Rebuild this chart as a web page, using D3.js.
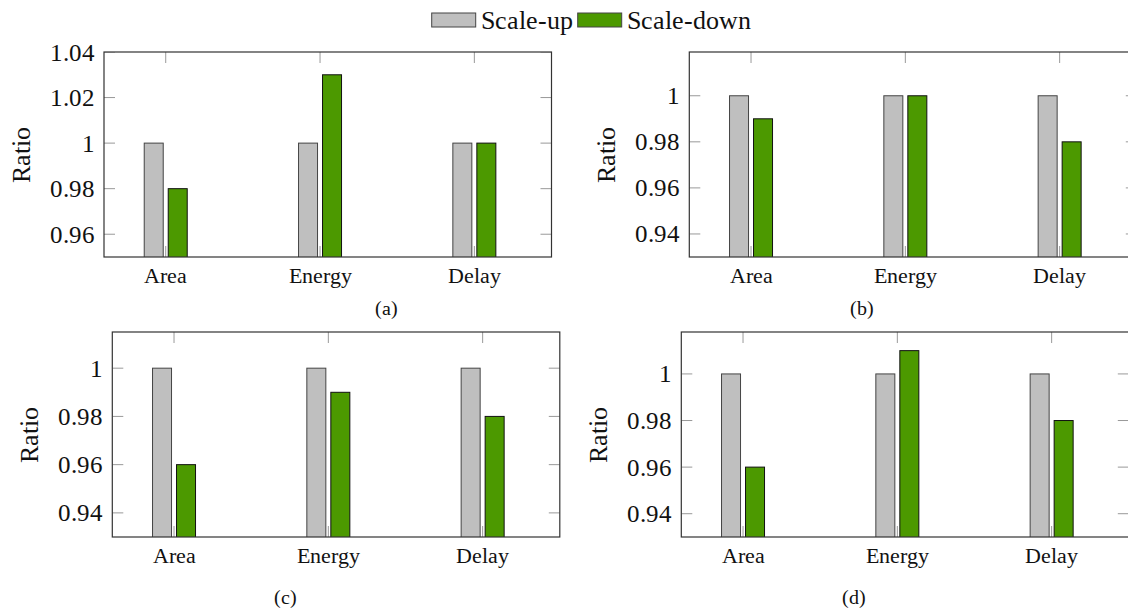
<!DOCTYPE html>
<meta charset="utf-8">
<style>
@font-face { font-family: "ChartSerif"; src: local("Liberation Serif"), local("LiberationSerif-Regular"), local("Liberation Serif Regular"); }
body { margin: 0; background: #fff; }
</style>
<svg width="1128" height="610" font-family="ChartSerif, 'Liberation Serif', serif"></svg>
<script src="https://cdnjs.cloudflare.com/ajax/libs/d3/7.8.5/d3.min.js"></script>
<script>
// categories and series
var categories = ["Area", "Energy", "Delay"];
var seriesNames = ["Scale-up", "Scale-down"];
var colors = ["#bfbfbf", "#4c9900"];

// values per panel
var upA = [1.00, 1.00, 1.00], downA = [0.98, 1.03, 1.00];
var upB = [1.00, 1.00, 1.00], downB = [0.99, 1.00, 0.98];
var upC = [1.00, 1.00, 1.00], downC = [0.96, 0.99, 0.98];
var upD = [1.00, 1.00, 1.00], downD = [0.96, 1.01, 0.98];

// y axis tick labels
var ticksA = [0.96, 0.98, 1.00, 1.02, 1.04];
var ticksBCD = [0.94, 0.96, 0.98, 1.00];

var panels = [
  {name: "(a)", up: upA, down: downA, ymin: 0.95, ymax: 1.04, ticks: ticksA, left: 104, top: 52, cap: [386, 315]},
  {name: "(b)", up: upB, down: downB, ymin: 0.93, ymax: 1.019, ticks: ticksBCD, left: 689.3, top: 52, cap: [862, 315]},
  {name: "(c)", up: upC, down: downC, ymin: 0.93, ymax: 1.015, ticks: ticksBCD, left: 112.3, top: 332, cap: [285, 604]},
  {name: "(d)", up: upD, down: downD, ymin: 0.93, ymax: 1.018, ticks: ticksBCD, left: 681.3, top: 332, cap: [854, 604]}
];

var svg = d3.select("svg");
var plotW = 447.5, plotH = 205, tickLen = 11, barW = 19, barOff = 12;
var fmt = function(d) { return d === 1 ? "1" : d.toFixed(2); };

// all text goes straight into the svg root, positioned in page coordinates
function label(px, py, str, size, anchor) {
  return svg.append("text")
    .attr("x", px).attr("y", py)
    .style("font-family", "ChartSerif, 'Liberation Serif', serif")
    .attr("font-size", size)
    .attr("text-anchor", anchor || "middle")
    .attr("fill", "#111")
    .text(str);
}

panels.forEach(function(p, pi) {
  var x = d3.scaleLinear().domain([-0.4, 2.5]).range([p.left, p.left + plotW]);
  var y = d3.scaleLinear().domain([p.ymin, p.ymax]).range([p.top + plotH, p.top]);
  var x0 = p.left, x1 = p.left + plotW, y0 = p.top, y1 = p.top + plotH;

  var clipId = "clip" + pi;
  svg.append("clipPath").attr("id", clipId)
    .append("rect").attr("x", x0).attr("y", y0).attr("width", plotW).attr("height", plotH);

  var bars = svg.append("g").attr("clip-path", "url(#" + clipId + ")");
  [p.up, p.down].forEach(function(vals, si) {
    bars.selectAll(".bar" + si)
      .data(vals)
      .enter().append("rect")
        .attr("x", function(d, i) { return x(i) + (si === 0 ? -barOff : barOff) - barW / 2; })
        .attr("y", function(d) { return y(d); })
        .attr("width", barW)
        .attr("height", function(d) { return y1 - y(d) + 2; })
        .attr("fill", colors[si])
        .attr("stroke", si === 0 ? "#444" : "#111")
        .attr("stroke-width", 1);
  });

  // ticks (inward) on all four sides
  var tk = svg.append("g").attr("clip-path", "url(#" + clipId + ")")
    .attr("stroke", "#999").attr("stroke-width", 1);
  p.ticks.forEach(function(t) {
    tk.append("line").attr("x1", x0).attr("x2", x0 + tickLen).attr("y1", y(t)).attr("y2", y(t));
    tk.append("line").attr("x1", x1 - tickLen).attr("x2", x1).attr("y1", y(t)).attr("y2", y(t));
  });
  categories.forEach(function(c, i) {
    tk.append("line").attr("x1", x(i)).attr("x2", x(i)).attr("y1", y0).attr("y2", y0 + tickLen);
    tk.append("line").attr("x1", x(i)).attr("x2", x(i)).attr("y1", y1 - tickLen).attr("y2", y1);
  });

  // frame
  svg.append("rect").attr("x", x0).attr("y", y0).attr("width", plotW).attr("height", plotH)
    .attr("fill", "none").attr("stroke", "#333").attr("stroke-width", 1.2);

  // y tick labels
  p.ticks.forEach(function(t) {
    label(x0 - 9, y(t) + 8.5, fmt(t), 25, "end");
  });

  // category labels
  categories.forEach(function(c, i) {
    label(x(i), y1 + 25.5, c, 22);
  });

  label(0, 0, "Ratio", 26)
    .attr("transform", "translate(" + (x0 - 74) + "," + (y0 + plotH / 2) + ") rotate(-90)");

  label(p.cap[0], p.cap[1], p.name, 20);
});

// legend
var lx = 431.7;
seriesNames.forEach(function(s, i) {
  svg.append("rect")
    .attr("x", lx).attr("y", 13).attr("width", 44).attr("height", 14)
    .attr("fill", colors[i]).attr("stroke", "#444").attr("stroke-width", 1);
  var t = label(lx + 49, 28.5, s, 26, "start");
  lx = lx + 49 + t.node().getComputedTextLength() + 5;
});
</script>
